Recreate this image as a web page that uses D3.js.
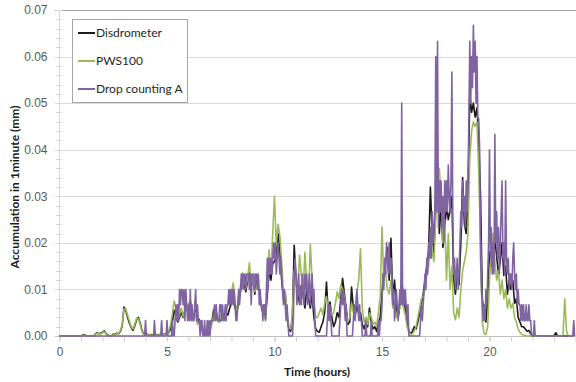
<!DOCTYPE html>
<html>
<head>
<meta charset="utf-8">
<script src="https://cdn.jsdelivr.net/npm/d3@7/dist/d3.min.js"></script>
<style>
  html, body { margin: 0; padding: 0; background: #fff; }
  svg { display: block; font-family: Lato, "Open Sans", sans-serif; }
</style>
</head>
<body>
<svg id="chart" width="576" height="382"></svg>
<script>
// One-minute rainfall accumulation (mm) over a day.
// Disdrometer and PWS100: one row per hour, 5-minute samples.
const disdrometer = [
  0,0,0,0,0,0,0,0,0,0,0,0,
  0,0.0002,0.0003,0,0,0,0,0,0.0004,0.0007,0.0005,0.0006,
  0.0008,0.0011,0.0005,0.0002,0,0,0.0004,0.0003,0.0006,0.0005,0.001,0.0022,
  0.0062,0.0055,0.004,0.0028,0.0018,0.0012,0.0022,0.0035,0.004,0.0028,0.0012,0.0004,
  0.0003,0.0004,0.0002,0.0003,0.0002,0.0002,0.0003,0.0002,0.0003,0.0004,0.0003,0.0005,
  0.0004,0.0008,0.0015,0.003,0.0055,0.0045,0.003,0.004,0.005,0.004,0.0055,0.006,
  0.0065,0.0075,0.005,0.004,0.0055,0.003,0.0035,0.002,0.0008,0.0012,0.0006,0.001,
  0.0015,0.003,0.0055,0.0062,0.004,0.003,0.0035,0.004,0.0035,0.005,0.0045,0.006,
  0.007,0.0085,0.006,0.005,0.0075,0.0095,0.0125,0.0115,0.0095,0.012,0.0135,0.0105,
  0.0125,0.009,0.012,0.011,0.008,0.0055,0.005,0.004,0.009,0.014,0.012,0.0155,
  0.016,0.017,0.022,0.018,0.012,0.008,0.009,0.004,0.0015,0.001,0.004,0.0195,
  0.012,0.009,0.007,0.011,0.0085,0.006,0.01,0.008,0.006,0.009,0.004,0.0015,
  0.001,0.0008,0.002,0.003,0.005,0.0116,0.005,0.0073,0.004,0.002,0.003,0.005,
  0.004,0.008,0.0124,0.0092,0.006,0.0025,0.003,0.0105,0.006,0.0045,0.0065,0.005,
  0.005,0.0025,0.0015,0.003,0.002,0.006,0.003,0.0015,0.002,0.001,0.003,0.004,
  0.009,0.014,0.016,0.019,0.012,0.021,0.008,0.012,0.006,0.004,0.0065,0.012,
  0.008,0.006,0.003,0.001,0.0005,0.001,0.002,0.0015,0.003,0.005,0.007,0.009,
  0.012,0.015,0.018,0.032,0.022,0.018,0.03,0.036,0.022,0.028,0.019,0.023,
  0.028,0.025,0.027,0.03,0.012,0.009,0.014,0.011,0.02,0.034,0.024,0.022,
  0.03,0.052,0.048,0.05,0.047,0.049,0.042,0.03,0.008,0.004,0.003,0.008,
  0.018,0.015,0.02,0.021,0.017,0.0135,0.016,0.02,0.013,0.015,0.009,0.012,
  0.01,0.012,0.007,0.008,0.004,0.003,0.002,0.002,0.0015,0.001,0.0012,0.0005,
  0,0,0,0,0,0,0,0,0,0,0,0,
  0,0.0007,0,0,0,0,0,0,0,0,0,0
];

const pws100 = [
  0,0,0,0,0,0,0,0,0,0,0,0,
  0,0.0001,0.0002,0,0,0,0,0,0.0003,0.0006,0.0005,0.0004,
  0.0007,0.0009,0.0004,0.0001,0,0,0.0003,0.0002,0.0005,0.0006,0.0012,0.0025,
  0.0058,0.0058,0.0045,0.0032,0.002,0.0015,0.0025,0.0038,0.0037,0.0025,0.001,0.0003,
  0.0002,0.0003,0.0002,0.0002,0.0001,0.0002,0.0002,0.0002,0.0002,0.0003,0.0002,0.0004,
  0.0003,0.001,0.0025,0.0048,0.0075,0.006,0.0035,0.0045,0.006,0.0042,0.005,0.0065,
  0.0055,0.006,0.004,0.0035,0.005,0.0025,0.003,0.0015,0.0005,0.001,0.0005,0.0012,
  0.0012,0.0025,0.0045,0.005,0.0035,0.003,0.0042,0.005,0.0045,0.006,0.0065,0.0085,
  0.0095,0.0114,0.007,0.0055,0.009,0.0105,0.0135,0.012,0.0105,0.0125,0.0157,0.011,
  0.013,0.0095,0.0105,0.012,0.0085,0.006,0.0045,0.0035,0.0125,0.0185,0.0135,0.022,
  0.030,0.0195,0.024,0.0215,0.016,0.009,0.0095,0.005,0.002,0.0015,0.005,0.014,
  0.011,0.0095,0.0174,0.013,0.01,0.018,0.011,0.0085,0.0197,0.012,0.007,0.004,
  0.004,0.005,0.006,0.0045,0.007,0.0085,0.0055,0.006,0.0045,0.005,0.007,0.0095,
  0.008,0.011,0.01,0.0085,0.005,0.003,0.004,0.007,0.005,0.006,0.0095,0.012,
  0.0187,0.006,0.003,0.004,0.0025,0.005,0.004,0.0025,0.003,0.002,0.005,0.0085,
  0.0234,0.012,0.014,0.01,0.009,0.012,0.006,0.007,0.004,0.005,0.006,0.008,
  0.006,0.0045,0.002,0.0008,0.0003,0.0005,0.001,0.002,0.004,0.006,0.008,0.0085,
  0.01,0.013,0.015,0.02,0.018,0.016,0.025,0.034,0.036,0.03,0.02,0.025,
  0.012,0.022,0.01,0.015,0.005,0.0035,0.006,0.004,0.01,0.014,0.016,0.018,
  0.022,0.038,0.044,0.046,0.045,0.046,0.035,0.02,0.003,0.0005,0.0003,0.002,
  0.012,0.018,0.022,0.016,0.012,0.014,0.009,0.012,0.008,0.01,0.006,0.008,
  0.006,0.007,0.004,0.003,0.0015,0.0008,0.0003,0.0002,0.0001,0,0,0,
  0,0,0,0,0,0,0,0,0,0,0,0,
  0,0,0,0,0,0,0.008,0.001,0,0,0,0
];

// Drop counting A: one row per hour, 2.5-minute samples (multiples of one drop).
const dropCountingA = [
  0,0,0,0,0,0,0,0,0,0,0,0,0,0,0,0,0,0,0,0,0,0,0,0,
  0,0,0,0,0,0,0,0,0,0,0,0,0,0,0,0,0,0,0,0,0,0,0,0,
  0,0,0,0,0,0,0,0,0,0,0,0,0,0,0,0,0,0,0,0,0,0,0,0,
  0,0,0,0,0,0,0,0,0,0,0,0,0,0,0,0,0,0,0,0,0,0,0,0,
  0.0033,0,0,0,0,0,0,0,0,0,0.0033,0,0,0,0,0,0,0,0.0033,0,0,0,0,0,
  0.0033,0,0,0,0,0,0.0033,0,0,0.0033,0.0067,0.0033,0.0067,0.0033,0.01,0.0067,0.01,0.01,0.0067,0.01,0.0033,0.01,0.0067,0.0033,
  0.0067,0.0033,0.01,0.0033,0.0067,0.0033,0.0033,0.0067,0.01,0.0033,0.0067,0.0033,0.0033,0,0.0033,0.0033,0,0,0.0033,0,0,0.0033,0,0.0033,
  0,0.0033,0.0033,0.0033,0.0033,0.0067,0.0033,0.0067,0.0033,0.0033,0.0033,0.0067,0.0067,0.0033,0.0067,0.0033,0.0033,0.0067,0.0033,0.0067,0.0067,0.01,0.0067,0.01,
  0.0067,0.01,0.0067,0.01,0.0067,0.0033,0.0033,0.0067,0.01,0.0067,0.01,0.0133,0.0133,0.01,0.0133,0.0133,0.01,0.0133,0.0133,0.0133,0.01,0.0133,0.0067,0.0133,
  0.0133,0.0133,0.01,0.0133,0.0133,0.01,0.0133,0.0067,0.01,0.0067,0.0067,0.0033,0.0067,0.0067,0.0033,0.01,0.0167,0.01,0.0167,0.0133,0.0167,0.0133,0.0167,0.02,
  0.0167,0.02,0.0133,0.0167,0.02,0.0167,0.0133,0.0167,0.0133,0.01,0.0067,0.01,0.0067,0.0033,0.0067,0.0033,0,0,0,0,0,0.0033,0.0133,0.0167,
  0.0133,0.0067,0.01,0.0133,0.0067,0.01,0.0067,0.0133,0.01,0.0067,0.0133,0.01,0.0133,0.0067,0.01,0.0133,0.0067,0.01,0.0133,0.0067,0.01,0.0033,0,0,
  0,0,0,0,0,0,0,0,0,0,0,0.0033,0.0067,0.0033,0.0067,0.0033,0,0,0,0,0,0,0,0,
  0,0.0033,0.0067,0.01,0.0067,0.01,0.0067,0.0033,0.0067,0,0,0,0,0,0,0,0.0033,0.0067,0.0033,0.0067,0.01,0.0067,0.0033,0.0067,
  0.0033,0.0033,0,0,0,0,0.0033,0,0,0,0,0,0.0033,0,0,0,0,0,0,0,0.0033,0,0.0033,0.0033,
  0.0067,0.0133,0.01,0.0167,0.0133,0.02,0.0167,0.0133,0.02,0.0133,0.0167,0.0133,0.0067,0.01,0.0033,0.0067,0.01,0.0067,0.0033,0.0067,0.01,0.0067,0.05,0.0067,
  0.01,0.0067,0.01,0.0067,0.0033,0.0067,0,0,0,0,0,0,0,0,0,0,0,0,0,0.0033,0.0067,0.0033,0.0067,0.01,
  0.0133,0.01,0.0167,0.0133,0.02,0.0167,0.0233,0.0167,0.0267,0.02,0.0233,0.0267,0.06,0.0267,0.0633,0.0233,0.0333,0.0267,0.0333,0.0233,0.03,0.02,0.0333,0.0267,
  0.0333,0.0267,0.0367,0.03,0.0267,0.0333,0.0567,0.0267,0.0133,0.0167,0.01,0.0133,0.0167,0.01,0.0133,0.02,0.0267,0.0233,0.0333,0.0267,0.03,0.0233,0.0333,0.0267,
  0.0333,0.0467,0.0633,0.05,0.06,0.0533,0.0667,0.0567,0.0633,0.05,0.06,0.0467,0.0467,0.04,0.0167,0.01,0.0067,0.0033,0.0067,0.0033,0.01,0.0067,0.0133,0.02,
  0.04,0.0167,0.0233,0.0133,0.02,0.0133,0.0433,0.02,0.0267,0.0167,0.0233,0.0133,0.02,0.0267,0.0333,0.0167,0.02,0.0133,0.0333,0.0167,0.0133,0.0167,0.01,0.0133,
  0.0133,0.01,0.0167,0.02,0.0133,0.01,0.0133,0.0067,0.01,0.0067,0.0067,0.0033,0.0067,0.0033,0.0067,0.0033,0.0033,0.0067,0.0033,0.0033,0.0067,0.0033,0.0033,0,
  0,0,0.0033,0,0,0,0,0,0,0,0,0,0,0,0,0,0,0,0,0,0,0,0,0,
  0,0,0,0,0,0,0,0,0,0,0,0,0,0,0,0,0,0,0,0,0,0,0.0033,0
];

const xMajorTicks = [0, 5, 10, 15, 20];
const xMinorTicks = d3.range(0, 25, 1);
const yMajorTicks = [0, 0.01, 0.02, 0.03, 0.04, 0.05, 0.06, 0.07];
const yMinorTicks = d3.range(0, 0.0701, 0.002);

const seriesNames = ["Disdrometer", "PWS100", "Drop counting A"];
const seriesColors = ["#1a1a1a", "#9bbb59", "#8064a2"];
const seriesValues = [disdrometer, pws100, dropCountingA];

const svg = d3.select("#chart");
const plot = { left: 59.5, right: 575.5, top: 10, bottom: 336 };

const x = d3.scaleLinear().domain([0, 24]).range([plot.left, plot.right]);
const y = d3.scaleLinear().domain([0, 0.07]).range([plot.bottom, plot.top]);

// horizontal gridlines
svg.append("g")
  .selectAll("line")
  .data(yMajorTicks.slice(1))
  .join("line")
  .attr("x1", 55).attr("x2", 576)
  .attr("y1", d => Math.round(y(d)) + 0.5)
  .attr("y2", d => Math.round(y(d)) + 0.5)
  .attr("stroke", d => d === 0.07 ? "#a6a6a6" : "#d9d9d9")
  .attr("stroke-width", 1);

// vertical axis line and minor ticks
svg.append("line")
  .attr("x1", 59.5).attr("x2", 59.5)
  .attr("y1", y(0.07)).attr("y2", y(0))
  .attr("stroke", "#d9d9d9");

svg.append("g")
  .selectAll("line")
  .data(yMinorTicks)
  .join("line")
  .attr("x1", 56).attr("x2", 62)
  .attr("y1", d => Math.round(y(d)) + 0.5)
  .attr("y2", d => Math.round(y(d)) + 0.5)
  .attr("stroke", "#d9d9d9");

// y tick labels
const yAxis = svg.append("g")
  .attr("transform", `translate(${plot.left},0)`)
  .call(d3.axisLeft(y).tickValues(yMajorTicks).tickFormat(d3.format(".2f")).tickSize(0).tickPadding(12));
yAxis.select(".domain").remove();
yAxis.selectAll("text").attr("fill", "#595959").style("font-size", "12px");

// x axis with hourly ticks
const xMinor = svg.append("g")
  .attr("transform", `translate(0,${plot.bottom + 0.5})`)
  .call(d3.axisBottom(x).tickValues(xMinorTicks).tickFormat("").tickSize(5).tickSizeOuter(0));
xMinor.select(".domain").attr("stroke", "#bfbfbf").attr("d", "M55,0H576");
xMinor.selectAll(".tick line").attr("stroke", "#d0d0d0");

const xAxis = svg.append("g")
  .attr("transform", `translate(0,${plot.bottom + 0.5})`)
  .call(d3.axisBottom(x).tickValues(xMajorTicks).tickSize(5).tickPadding(6));
xAxis.select(".domain").remove();
xAxis.selectAll(".tick line").attr("stroke", "#d0d0d0");
xAxis.selectAll("text").attr("fill", "#595959").style("font-size", "12px");

// series lines; each series spans 24 h at its own sampling step
const line = d3.line()
  .x((d, i, arr) => x(i * 24 / arr.length))
  .y(d => y(d));

svg.append("g")
  .selectAll("path")
  .data(seriesValues)
  .join("path")
  .attr("d", d => line(d))
  .attr("fill", "none")
  .attr("stroke", (d, i) => seriesColors[i])
  .attr("stroke-width", 1.6)
  .attr("stroke-linejoin", "round");

// axis titles
svg.append("text")
  .attr("x", 317).attr("y", 376)
  .attr("text-anchor", "middle")
  .style("font-size", "12px").style("font-weight", "bold")
  .attr("fill", "#1a1a1a")
  .text("Time (hours)");

svg.append("text")
  .attr("transform", "translate(19,187) rotate(-90)")
  .attr("text-anchor", "middle")
  .style("font-size", "12px").style("font-weight", "bold")
  .attr("fill", "#1a1a1a")
  .text("Accumulation in 1minute (mm)");

// legend
const legend = svg.append("g");
legend.append("rect")
  .attr("x", 72.5).attr("y", 19.5)
  .attr("width", 115).attr("height", 83)
  .attr("fill", "#fff").attr("stroke", "#a6a6a6");

const entryY = [33, 61, 89];
seriesNames.forEach((name, i) => {
  legend.append("line")
    .attr("x1", 78).attr("x2", 95)
    .attr("y1", entryY[i]).attr("y2", entryY[i])
    .attr("stroke", seriesColors[i]).attr("stroke-width", 2);
  legend.append("text")
    .attr("x", 96).attr("y", entryY[i]).attr("dy", "0.35em")
    .style("font-size", "12px")
    .attr("fill", "#262626")
    .text(name);
});
</script>
</body>
</html>
